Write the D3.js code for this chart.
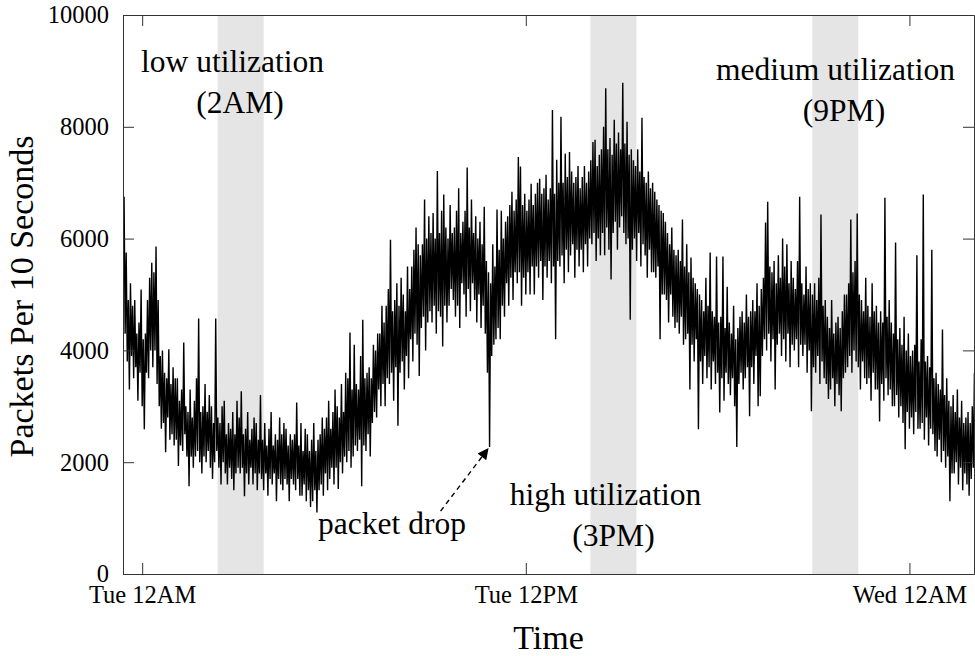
<!DOCTYPE html>
<html>
<head>
<meta charset="utf-8">
<script src="https://cdn.jsdelivr.net/npm/d3@7"></script>
<style>
  html, body { margin: 0; padding: 0; background: #fff; }
  svg { display: block; font-family: "Liberation Serif", "Times New Roman", Times, serif; }
</style>
</head>
<body>
<svg id="chart" width="975" height="656"></svg>
<script>
// Packets per 10 seconds, one sample every 2 minutes, starting 36 min before Tuesday midnight
const startHour = -0.6;
const stepHour = 1 / 30;
const packets = [
  5600, 6750, 4300, 5750, 3800, 4900, 3300, 5200, 3900, 4800,
  3500, 4900, 3700, 4300, 3100, 4500, 3600, 5090, 3000, 4200,
  2590, 4300, 3600, 4900, 3500, 5300, 4000, 5570, 3700, 5400,
  4000, 5860, 3400, 4900, 3000, 3900, 2600, 4000, 2700, 3600,
  2180, 3500, 2800, 4020, 2400, 3400, 2500, 3700, 2300, 3500,
  2400, 3500, 1930, 3100, 2300, 3300, 2200, 4140, 2500, 3000,
  2100, 2900, 1570, 3300, 2100, 2800, 1900, 3100, 2100, 3500,
  2200, 4570, 2000, 2900, 1800, 3000, 2100, 3400, 2000, 2900,
  2200, 3200, 1900, 3000, 1700, 2700, 2000, 4570, 2200, 2800,
  1900, 2700, 1600, 3000, 2000, 3100, 1800, 2500, 1600, 2700,
  1900, 2600, 1700, 2900, 1500, 2500, 1800, 3100, 1900, 2800,
  1800, 3270, 1900, 2500, 1390, 2600, 1800, 2900, 1600, 2400,
  1900, 2600, 1600, 2800, 1800, 2700, 1500, 2400, 1800, 3200,
  1700, 2400, 1500, 2700, 1800, 2300, 1400, 2600, 1700, 2900,
  1600, 2300, 1800, 2500, 1300, 2400, 1700, 2800, 1600, 2500,
  1500, 2700, 1700, 2600, 1600, 2300, 1300, 2500, 1700, 2400,
  1600, 2500, 1500, 3070, 1700, 2300, 1400, 2700, 1400, 2200,
  1600, 2600, 1300, 2500, 1500, 2200, 1200, 2400, 1300, 2700,
  1500, 2200, 1100, 2400, 1500, 2500, 1600, 2800, 1400, 2600,
  1800, 2800, 1500, 3100, 1700, 2600, 1900, 2900, 1600, 3300,
  1900, 3000, 1520, 2800, 2000, 3400, 1800, 2900, 2100, 3600,
  2000, 3500, 2200, 4320, 1900, 3300, 2100, 4100, 2300, 3400,
  2200, 3300, 2400, 3900, 1570, 4550, 2300, 3500, 2200, 3600,
  2500, 3700, 2100, 3500, 2700, 4100, 2900, 4000, 2800, 4300,
  3300, 4300, 3000, 4800, 3400, 4500, 3000, 4800, 3500, 5100,
  3400, 5980, 3600, 4700, 3100, 4900, 3700, 5200, 2650, 4800,
  3600, 5300, 3800, 5000, 3300, 4700, 3900, 5500, 3500, 5100,
  4200, 5500, 3800, 5800, 4300, 6200, 4100, 5900, 3540, 5700,
  4400, 5900, 4600, 6700, 4000, 6000, 4500, 6400, 4700, 6100,
  4500, 6460, 4800, 6000, 4300, 7210, 4700, 6100, 4600, 6500,
  4070, 6790, 4800, 6200, 4500, 6000, 4800, 6600, 5100, 6100,
  4900, 6200, 4600, 6500, 4800, 6900, 4400, 6100, 5200, 6300,
  5000, 6500, 4600, 7270, 5100, 6200, 4700, 6700, 5200, 6100,
  4900, 6400, 4500, 6000, 5000, 6300, 4400, 5900, 4800, 6570,
  4300, 5600, 3600, 5400, 2270, 5200, 3900, 5900, 4100, 5500,
  4200, 6520, 4400, 5800, 4200, 6500, 4800, 6000, 4600, 6300,
  5200, 6400, 4800, 6600, 5300, 6840, 4900, 6500, 5400, 6700,
  5200, 7460, 5400, 7290, 4800, 6600, 5300, 6800, 5000, 6500,
  5400, 6700, 5000, 6980, 5500, 6600, 5000, 6800, 5500, 7000,
  5300, 7070, 5600, 6800, 4900, 6900, 5500, 7140, 5300, 6700,
  5600, 6900, 5200, 8300, 5500, 6800, 4200, 7410, 5600, 7000,
  5500, 8180, 5700, 7000, 5200, 7520, 5800, 7100, 5400, 7550,
  5700, 7200, 5900, 7000, 5300, 7100, 5800, 7300, 5500, 6900,
  5800, 7100, 5400, 7300, 5900, 7000, 5500, 7200, 6000, 7400,
  5900, 7730, 6100, 7770, 5600, 7300, 6000, 7500, 5700, 7600,
  6100, 8000, 5700, 8690, 6200, 7600, 5800, 7800, 5270, 7500,
  6100, 8125, 6300, 7700, 5800, 7900, 6200, 7600, 6400, 8790,
  6100, 7700, 5900, 8090, 6000, 7500, 4550, 7600, 5800, 7400,
  6000, 7300, 5600, 7600, 6100, 7200, 5500, 8160, 5900, 7100,
  5700, 7000, 5300, 7200, 5800, 6900, 5400, 7000, 5400, 6840,
  5300, 6700, 5500, 6600, 4200, 6500, 5000, 6460, 5000, 6300,
  4900, 6100, 4500, 5900, 5000, 6200, 4600, 5800, 4400, 5700,
  4500, 5800, 4300, 5600, 4600, 6340, 4100, 5500, 4200, 5900,
  4300, 5400, 3300, 5660, 4100, 5300, 3800, 5200, 4200, 5100,
  2590, 5000, 3800, 4900, 3400, 4700, 3900, 5300, 3500, 4800,
  3700, 5750, 3300, 4700, 3800, 4600, 3400, 5680, 3600, 4500,
  2890, 4600, 3500, 5680, 3100, 4400, 3600, 5140, 3400, 4500,
  3200, 4300, 3500, 4800, 3000, 4200, 2270, 4400, 3400, 4600,
  3600, 4700, 3300, 4500, 3500, 5000, 3700, 4600, 2820, 4700,
  3700, 4900, 3400, 4700, 3900, 5200, 3000, 4800, 3180, 5100,
  3900, 5300, 4200, 6290, 4000, 6660, 4300, 5500, 3800, 5400,
  4200, 5600, 3300, 5200, 4100, 5700, 4300, 5300, 3900, 6000,
  4200, 5500, 3800, 5900, 4300, 5200, 3700, 5600, 4100, 5300,
  4000, 5100, 4200, 5600, 3700, 6750, 4100, 5200, 3900, 5000,
  4100, 5500, 3600, 5100, 4000, 5200, 2910, 5000, 3700, 5200,
  3600, 4900, 3900, 5300, 3400, 6430, 3800, 4800, 3500, 4900,
  3400, 4600, 3130, 4400, 3300, 4900, 3500, 4300, 3000, 4500,
  3400, 4600, 3200, 4400, 2910, 4700, 3500, 5000, 3600, 5000,
  3700, 5200, 3900, 6340, 3600, 5400, 4000, 5600, 3800, 6450,
  3700, 5000, 3300, 4900, 3800, 4700, 3500, 5300, 3400, 4800,
  3500, 4600, 3100, 5200, 3600, 4700, 3300, 4800, 3300, 4500,
  2730, 4700, 3400, 4500, 3100, 6730, 3500, 4600, 3200, 4900,
  3300, 4500, 3000, 4300, 3000, 5930, 3200, 4200, 2800, 4400,
  3000, 4100, 2700, 4600, 2230, 4000, 2900, 4300, 2600, 3900,
  2800, 4000, 2500, 4100, 2900, 5700, 2600, 3800, 2600, 4200,
  2700, 6790, 2400, 3800, 2800, 3900, 2300, 3700, 2600, 5800,
  2500, 3500, 2200, 3600, 2100, 3400, 2400, 3300, 2000, 4375,
  2200, 3200, 1900, 3500, 2100, 3100, 1300, 3000, 1800, 3200,
  1800, 2900, 2000, 3300, 1600, 2800, 1900, 3100, 1500, 2700,
  1800, 2800, 1600, 2900, 1400, 2700, 1700, 3000, 1900, 3600
];

const yTickValues = [0, 2000, 4000, 6000, 8000, 10000];
const xTickHours = [0, 12, 24];
const xTickLabels = ["Tue 12AM", "Tue 12PM", "Wed 12AM"];

// shaded windows (hours after Tuesday midnight)
const bandStart = [2.36, 14.02, 20.96];
const bandEnd = [3.80, 15.46, 22.40];
const bandTitles = ["low utilization", "high utilization", "medium utilization"];
const bandTimes = ["(2AM)", "(3PM)", "(9PM)"];

const dropLabel = "packet drop";

// ---- layout ----
const plotLeft = 123, plotRight = 974, plotTop = 15, plotBottom = 574;
const svg = d3.select("#chart");

const x = d3.scaleLinear().domain([-0.6, 26.02]).range([plotLeft, plotRight]);
const y = d3.scaleLinear().domain([0, 10000]).range([plotBottom, plotTop]);

const defs = svg.append("defs");
defs.append("clipPath").attr("id", "plot-clip")
  .append("rect").attr("x", plotLeft).attr("y", plotTop)
  .attr("width", plotRight - plotLeft).attr("height", plotBottom - plotTop);

// shaded windows
svg.append("g").selectAll("rect")
  .data(bandStart.map((s, i) => ({ s, e: bandEnd[i] })))
  .join("rect")
  .attr("x", d => x(d.s))
  .attr("width", d => x(d.e) - x(d.s))
  .attr("y", plotTop)
  .attr("height", plotBottom - plotTop)
  .attr("fill", "#e5e5e5");

// traffic trace
const line = d3.line()
  .x((d, i) => x(startHour + i * stepHour))
  .y(d => y(d));

svg.append("path")
  .datum(packets)
  .attr("clip-path", "url(#plot-clip)")
  .attr("d", line)
  .attr("fill", "none")
  .attr("stroke", "#000")
  .attr("stroke-width", 1.4);

// ---- axes (box with inward ticks) ----
const tickLen = 11;
function styleAxis(g) {
  g.selectAll(".domain").attr("stroke", "#333").attr("fill", "none");
  g.selectAll(".tick line").attr("stroke", "#333");
  g.selectAll("text").attr("fill", "#000");
  g.attr("font-family", null);
}

svg.append("g")
  .attr("transform", `translate(${plotLeft},0)`)
  .call(d3.axisLeft(y).tickValues(yTickValues).tickFormat(d3.format("d"))
    .tickSizeInner(-tickLen).tickSizeOuter(0).tickPadding(14))
  .call(styleAxis)
  .call(g => g.selectAll("text").attr("font-size", 24.5));

svg.append("g")
  .attr("transform", `translate(${plotRight},0)`)
  .call(d3.axisRight(y).tickValues(yTickValues).tickFormat("")
    .tickSizeInner(-tickLen).tickSizeOuter(0))
  .call(styleAxis);

svg.append("g")
  .attr("transform", `translate(0,${plotBottom})`)
  .call(d3.axisBottom(x).tickValues(xTickHours).tickFormat((d, i) => xTickLabels[i])
    .tickSizeInner(-tickLen).tickSizeOuter(0).tickPadding(12))
  .call(styleAxis)
  .call(g => g.selectAll("text").attr("font-size", 24.5));

svg.append("g")
  .attr("transform", `translate(0,${plotTop})`)
  .call(d3.axisTop(x).tickValues(xTickHours).tickFormat("")
    .tickSizeInner(-tickLen).tickSizeOuter(0))
  .call(styleAxis);

// ---- axis titles ----
svg.append("text")
  .attr("x", (plotLeft + plotRight) / 2)
  .attr("y", 649)
  .attr("text-anchor", "middle")
  .attr("font-size", 34)
  .text("Time");

svg.append("text")
  .attr("transform", `translate(33,${(plotTop + plotBottom) / 2 + 2}) rotate(-90)`)
  .attr("text-anchor", "middle")
  .attr("font-size", 34)
  .text("Packets Per 10 Seconds");

// ---- annotations ----
const annFont = 31.5;
const notes = [
  { t: bandTitles[0], cx: 232.5, by: 72 },
  { t: bandTimes[0], cx: 240, by: 113 },
  { t: bandTitles[1], cx: 605.5, by: 505 },
  { t: bandTimes[1], cx: 613.5, by: 546 },
  { t: bandTitles[2], cx: 835.5, by: 80 },
  { t: bandTimes[2], cx: 844, by: 121 },
  { t: dropLabel, cx: 392, by: 534 }
];
svg.append("g").selectAll("text")
  .data(notes)
  .join("text")
  .attr("x", d => d.cx)
  .attr("y", d => d.by)
  .attr("text-anchor", "middle")
  .attr("font-size", annFont)
  .text(d => d.t);

// dashed arrow pointing at the dip (lowest sample between 10AM and 12PM)
let dropIdx = 0, dropVal = Infinity;
packets.forEach((v, i) => {
  const h = startHour + i * stepHour;
  if (h > 10 && h < 12 && v < dropVal) { dropVal = v; dropIdx = i; }
});
const tipX = x(startHour + dropIdx * stepHour);
const tipY = y(dropVal);

defs.append("marker")
  .attr("id", "arrowhead")
  .attr("viewBox", "0 0 10 10")
  .attr("refX", 10).attr("refY", 5)
  .attr("markerWidth", 15).attr("markerHeight", 11)
  .attr("markerUnits", "userSpaceOnUse")
  .attr("orient", "auto")
  .append("path").attr("d", "M0,0 L10,5 L0,10 Z").attr("fill", "#000");

svg.append("line")
  .attr("x1", tipX - 49).attr("y1", tipY + 64)
  .attr("x2", tipX - 1).attr("y2", tipY + 1)
  .attr("stroke", "#000")
  .attr("stroke-width", 1.4)
  .attr("stroke-dasharray", "5,4")
  .attr("marker-end", "url(#arrowhead)");
</script>
</body>
</html>
